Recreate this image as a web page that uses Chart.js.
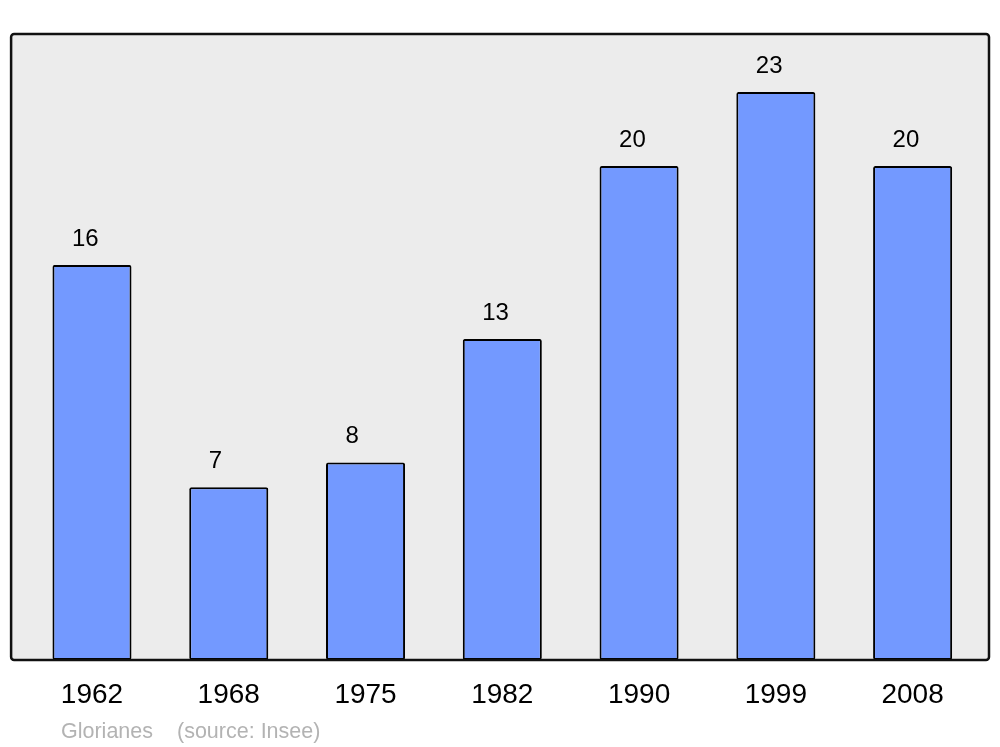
<!DOCTYPE html>
<html>
<head>
<meta charset="utf-8">
<script src="https://cdn.jsdelivr.net/npm/chart.js@4/dist/chart.umd.min.js"></script>
<style>
  html, body { margin: 0; padding: 0; background: #fff; }
  #wrap { width: 1000px; height: 747px; position: relative; }
</style>
</head>
<body>
<div id="wrap"><canvas id="pop"></canvas></div>
<script>
var years = ['1962', '1968', '1975', '1982', '1990', '1999', '2008'];
var population = [16, 7, 8, 13, 20, 23, 20];
var footerName = 'Glorianes';
var footerSource = '(source: Insee)';

var fontFam = '"Liberation Sans", Arial, sans-serif';

// grey frame behind the bars, outline drawn after them
var framePlugin = {
    id: 'frame',
    beforeDatasetsDraw: function(chart) {
        var a = chart.chartArea, ctx = chart.ctx;
        ctx.save();
        ctx.beginPath();
        ctx.roundRect(a.left - 12.5, a.top, a.right - a.left + 20.5, a.bottom - a.top, 3);
        ctx.fillStyle = '#ececec';
        ctx.fill();
        ctx.restore();
    },
    afterDatasetsDraw: function(chart) {
        var a = chart.chartArea, ctx = chart.ctx;
        ctx.save();
        ctx.beginPath();
        ctx.roundRect(a.left - 12.5, a.top, a.right - a.left + 20.5, a.bottom - a.top, 3);
        ctx.lineWidth = 2.5;
        ctx.strokeStyle = '#111';
        ctx.stroke();

        // values over the bars, left aligned inside the bar width
        var meta = chart.getDatasetMeta(0);
        ctx.fillStyle = '#000';
        ctx.font = '24px ' + fontFam;
        ctx.textAlign = 'left';
        ctx.textBaseline = 'alphabetic';
        meta.data.forEach(function(bar, i) {
            ctx.fillText(population[i], bar.x - bar.width / 2 + 19.5, bar.y - 19);
        });

        // source line
        ctx.fillStyle = '#b3b3b3';
        ctx.font = '21.5px ' + fontFam;
        ctx.fillText(footerName, 61, 738);
        ctx.fillText(footerSource, 177, 738);
        ctx.restore();
    }
};

new Chart(document.getElementById('pop'), {
    type: 'bar',
    data: {
        labels: years,
        datasets: [{
            data: population,
            backgroundColor: '#7399ff',
            borderColor: '#000',
            borderWidth: 2,
            borderRadius: 2,
            borderSkipped: false,
            categoryPercentage: 1,
            barPercentage: 0.578
        }]
    },
    options: {
        responsive: true,
        maintainAspectRatio: false,
        animation: false,
        layout: { padding: { left: 23.6, right: 19, top: 34, bottom: 17.4 } },
        plugins: {
            legend: { display: false },
            tooltip: { enabled: false }
        },
        scales: {
            x: {
                grid: { display: false, drawTicks: false },
                border: { display: false },
                ticks: {
                    color: '#000',
                    padding: 18,
                    font: { size: 28, family: fontFam }
                }
            },
            y: {
                display: false,
                min: 0,
                max: 25.35
            }
        }
    },
    plugins: [framePlugin]
});
</script>
</body>
</html>
